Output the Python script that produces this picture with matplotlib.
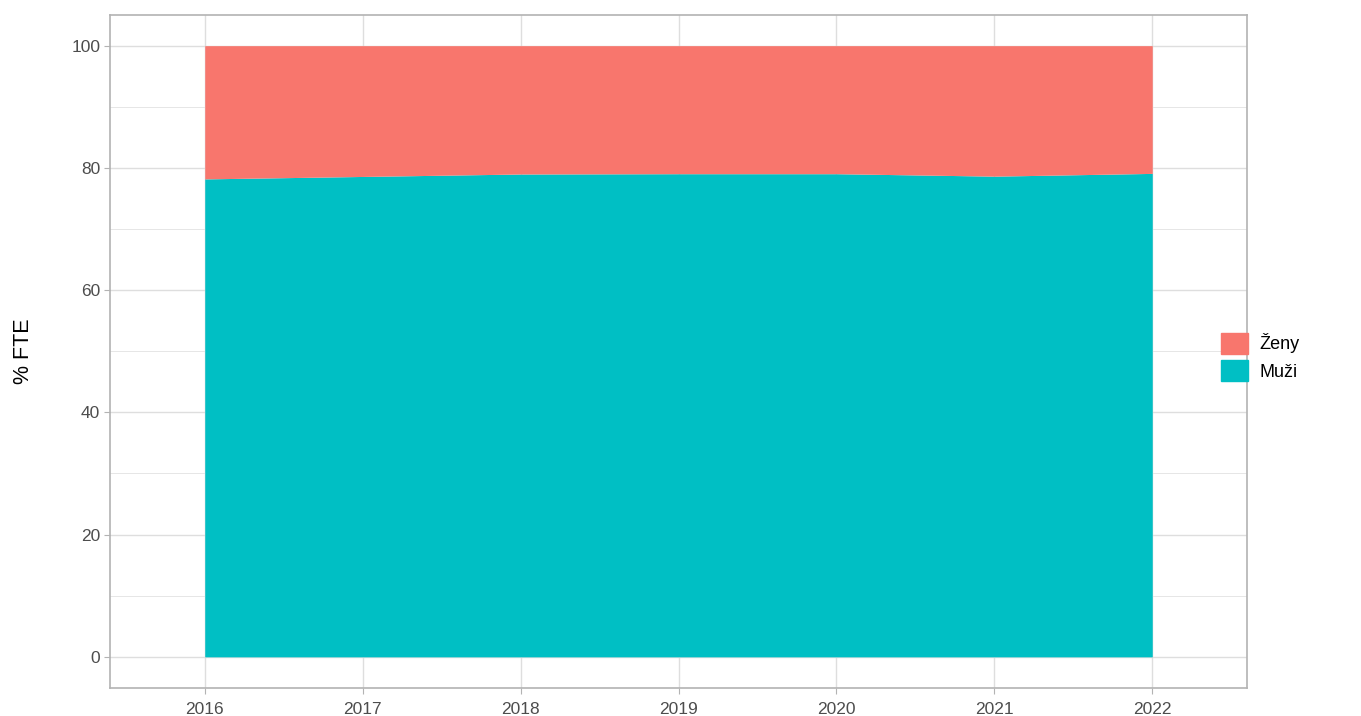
import matplotlib
matplotlib.use("Agg")
import matplotlib.pyplot as plt
import matplotlib.patches as mpatches
import numpy as np

plt.rcParams['font.family'] = ['Liberation Sans', 'DejaVu Sans']

# Data: share of FTE (%) by year
years = [2016, 2017, 2018, 2019, 2020, 2021, 2022]
muzi = [78.2, 78.6, 79.0, 79.05, 79.05, 78.65, 79.1]
zeny = [100 - m for m in muzi]

labels = ["Ženy", "Muži"]
colors = {"Ženy": "#F8766D", "Muži": "#00BFC4"}

fig = plt.figure(figsize=(13.61, 7.16), dpi=100)
ax = fig.add_axes([110 / 1361, 1 - 688 / 716, (1247 - 110) / 1361, (688 - 14.5) / 716])

y_m = np.array(muzi)
y_z = y_m + np.array(zeny)
ax.fill_between(years, 0, y_m, color=colors["Muži"], linewidth=0, zorder=2)
ax.fill_between(years, y_m, y_z, color=colors["Ženy"], linewidth=0, zorder=2)

ax.set_xlim(2015.4, 2022.6)
ax.set_ylim(-5.1, 105.1)
ax.set_xticks(years)
ax.set_yticks([0, 20, 40, 60, 80, 100])
ax.set_yticks([10, 30, 50, 70, 90], minor=True)

ax.grid(True, which='major', color='#DEDEDE', linewidth=1.0, zorder=0)
ax.grid(True, which='minor', axis='y', color='#E6E6E6', linewidth=0.7, zorder=0)
ax.set_axisbelow(True)

for s in ax.spines.values():
    s.set_color('#B3B3B3')
    s.set_linewidth(1.2)

ax.tick_params(which='major', length=4, color='#B3B3B3', labelsize=12.5, labelcolor='#4D4D4D', pad=3)
ax.tick_params(axis='x', which='major', pad=6)
ax.tick_params(which='minor', length=0)

ax.set_ylabel("% FTE", fontsize=15.5, color='black')
ax.yaxis.set_label_coords(-76 / 1137, 0.5)

handles = [mpatches.Patch(color=colors[l], label=l) for l in labels]
fig.legend(handles=handles, loc='center left', bbox_to_anchor=(1205 / 1361, 1 - 357 / 716),
           frameon=False, fontsize=13, handlelength=1.5, handleheight=1.4,
           handletextpad=0.6, labelspacing=0.35)

fig.savefig("out.png", dpi=100, facecolor='white')
